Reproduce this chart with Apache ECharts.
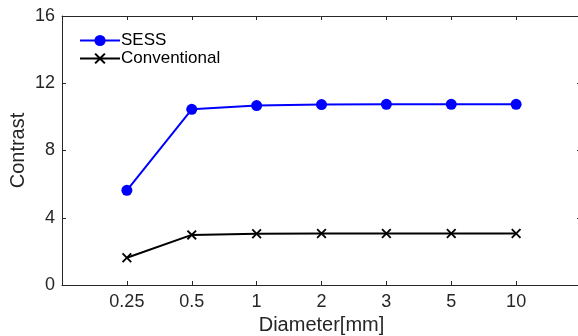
<!DOCTYPE html>
<html><head><meta charset="utf-8">
<script src="https://cdn.jsdelivr.net/npm/echarts@6/dist/echarts.min.js"></script>
<style>html,body{margin:0;padding:0;background:#fff}#c{width:578px;height:336px}</style>
</head><body><div id="c"></div>
<script>
var categories = ['0.25','0.5','1','2','3','5','10'];
var sess = [5.63, 10.45, 10.67, 10.73, 10.75, 10.75, 10.75];
var conventional = [1.62, 2.98, 3.05, 3.06, 3.06, 3.06, 3.06];
var yTicks = [0, 4, 8, 12, 16];

function pairs(arr){ return arr.map(function(v,i){ return [i+1, v]; }); }
var xMark = 'path://M0,1.3L1.3,0L5,3.7L8.7,0L10,1.3L6.3,5L10,8.7L8.7,10L5,6.3L1.3,10L0,8.7L3.7,5Z';
var axisCol = '#262626';
var font = 'Liberation Sans, Arial, Helvetica, sans-serif';

var chart = echarts.init(document.getElementById('c'), null, {renderer:'canvas'});
function axLine(){ return {show:true, onZero:false, lineStyle:{color:axisCol, width:1}}; }
function axTick(){ return {show:true, inside:true, length:4, lineStyle:{color:axisCol}}; }
chart.setOption({
  animation:false,
  grid:{left:62, right:-3, top:16, bottom:51, containLabel:false, outerBoundsMode:'none'},
  legend:{
    orient:'vertical', left:74, top:27, itemWidth:40, itemHeight:14, itemGap:1,
    textStyle:{fontFamily:font, fontSize:17, color:'#000', padding:[0,0,0,-4]},
    data:['SESS','Conventional']
  },
  xAxis:[
    {type:'value', min:0, max:categories.length+1, interval:1, position:'bottom',
      axisLine:axLine(), axisTick:axTick(), splitLine:{show:false},
      name:'Diameter[mm]', nameLocation:'middle', nameGap:30, nameMoveOverlap:false,
      nameTextStyle:{fontFamily:font, fontSize:20, color:axisCol},
      axisLabel:{show:true, margin:8, fontFamily:font, fontSize:18, color:axisCol,
        formatter:function(v){ var i=Math.round(v)-1; return (i>=0 && i<categories.length)?categories[i]:''; }}
    },
    {type:'value', min:0, max:categories.length+1, interval:1, position:'top',
      axisLine:axLine(), axisTick:axTick(), splitLine:{show:false}, axisLabel:{show:false}}
  ],
  yAxis:[
    {type:'value', min:0, max:16, interval:4, position:'left',
     name:'Contrast', nameLocation:'middle', nameGap:34, nameMoveOverlap:false,
     nameTextStyle:{fontFamily:font, fontSize:20, color:axisCol},
     axisLine:axLine(), axisTick:axTick(),
     axisLabel:{margin:7, fontFamily:font, fontSize:18, color:axisCol,
       formatter:function(v){ return yTicks.indexOf(v)>=0 ? String(v) : ''; }},
     splitLine:{show:false}},
    {type:'value', min:0, max:16, interval:4, position:'right',
     axisLine:axLine(), axisTick:axTick(),
     axisLabel:{show:false}, splitLine:{show:false}}
  ],
  series:[
    {name:'SESS', type:'line', data:pairs(sess), symbol:'circle', symbolSize:11,
     lineStyle:{color:'#0000ff', width:2}, itemStyle:{color:'#0000ff'}},
    {name:'Conventional', type:'line', data:pairs(conventional), symbol:xMark, symbolSize:10,
     lineStyle:{color:'#000', width:2}, itemStyle:{color:'#000'}}
  ]
});
</script></body></html>
